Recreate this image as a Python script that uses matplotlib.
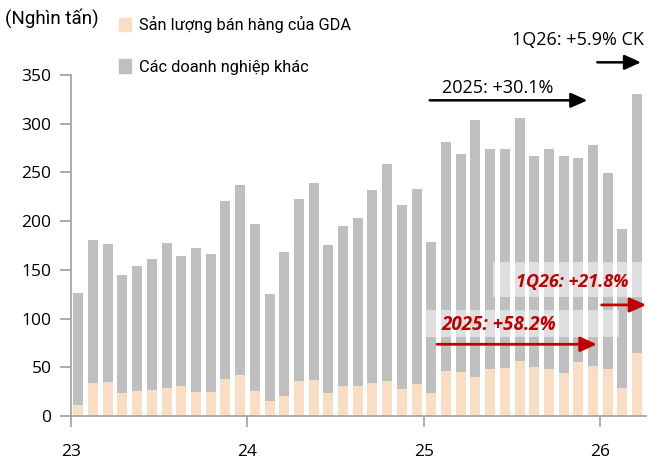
import numpy as np
import matplotlib
matplotlib.use("Agg")
import matplotlib.pyplot as plt
from matplotlib.patches import Patch, Rectangle

plt.rcParams['font.family'] = ['Open Sans', 'DejaVu Sans']

# Monthly data, Jan 2023 - Mar 2026 (thousand tonnes)
gda = [11, 34, 35, 24, 26, 27, 29, 31, 25, 25, 38, 42,
       26, 15, 21, 36, 37, 24, 31, 31, 34, 36, 28, 33,
       24, 46, 45, 40, 48, 49, 56, 50, 48, 44, 55, 51,
       48, 29, 65]
total = [126, 181, 177, 145, 154, 161, 178, 164, 172, 166, 221, 237,
         197, 125, 168, 223, 239, 176, 195, 203, 232, 259, 217, 233,
         179, 281, 269, 304, 274, 274, 306, 267, 274, 267, 265, 278,
         249, 192, 331]
others = [t - g for t, g in zip(total, gda)]
year_labels = ["23", "24", "25", "26"]

c_gda = "#F9DEC3"
c_oth = "#BFBFBF"
c_red = "#C00000"
c_axis = "#A6A6A6"
narrow = ['Roboto', 'Open Sans', 'DejaVu Sans']

fig = plt.figure(figsize=(6.48, 4.63), dpi=100)
ax = fig.add_axes([71 / 648, 1 - 416 / 463, (646 - 71) / 648, (416 - 75) / 463])

x = np.arange(len(gda))
ax.bar(x, gda, width=0.68, color=c_gda, label="Sản lượng bán hàng của GDA")
ax.bar(x, others, width=0.68, bottom=gda, color=c_oth, label="Các doanh nghiệp khác")

ax.set_xlim(-0.5, 38.6)
ax.set_ylim(0, 350)
ax.set_yticks(range(0, 351, 50))
ax.set_xticks(np.arange(len(year_labels)) * 12 - 0.5)
ax.set_xticklabels(year_labels)

for s in ["top", "right"]:
    ax.spines[s].set_visible(False)
for s in ["left", "bottom"]:
    ax.spines[s].set_color(c_axis)
    ax.spines[s].set_linewidth(1.3)
ax.tick_params(axis="both", colors=c_axis, labelcolor="black", labelsize=12.5,
               length=8, width=1.3)
ax.tick_params(axis="x", pad=12)
ax.tick_params(axis="y", pad=6)

# legend
handles = [Patch(color=c_gda), Patch(color=c_oth)]
fig.legend(handles, ["Sản lượng bán hàng của GDA", "Các doanh nghiệp khác"],
           loc="upper left", bbox_to_anchor=(111 / 648, 1 - 8 / 463),
           frameon=False, prop={'family': narrow, 'size': 11.8},
           handlelength=0.7, handleheight=0.85,
           handletextpad=0.5, labelspacing=1.6, borderpad=0)

fig.text(5 / 648, 1 - 18 / 463, "(Nghìn tấn)", fontsize=13.5, va="center",
         family=narrow)

# black annotations (total market)
arrow_k = dict(arrowstyle="-|>,head_length=1.0,head_width=0.45", color="black", lw=1.8)
ax.annotate("", xy=(38.45, 363), xytext=(35.1, 363), arrowprops=arrow_k,
            annotation_clip=False)
ax.text(34.0, 386, "1Q26: +5.9% CK", fontsize=13, ha="center", va="center",
        clip_on=False)
ax.annotate("", xy=(34.8, 324), xytext=(23.7, 324), arrowprops=arrow_k,
            annotation_clip=False)
ax.text(28.5, 337, "2025: +30.1%", fontsize=13, ha="center", va="center")

# red annotations (GDA)
ax.add_patch(Rectangle((28.2, 122), 10.7, 36, facecolor="white", alpha=0.5,
                       edgecolor="none", clip_on=False, zorder=3))
ax.add_patch(Rectangle((23.4, 81), 13.35, 28, facecolor="white", alpha=0.5,
                       edgecolor="none", zorder=3))
arrow_r = dict(arrowstyle="-|>,head_length=1.0,head_width=0.45", color=c_red, lw=2)
ax.annotate("", xy=(38.8, 114), xytext=(35.4, 114), arrowprops=arrow_r,
            annotation_clip=False, zorder=4)
ax.annotate("", xy=(35.45, 73.6), xytext=(24.2, 73.6), arrowprops=arrow_r,
            annotation_clip=False, zorder=4)
ax.text(33.6, 138, "1Q26: +21.8%", fontsize=13, color=c_red, fontweight="bold",
        fontstyle="italic", ha="center", va="center", zorder=5)
ax.text(28.6, 93.5, "2025: +58.2%", fontsize=13.5, color=c_red, fontweight="bold",
        fontstyle="italic", ha="center", va="center", zorder=5)

fig.savefig("out.png", dpi=100)
